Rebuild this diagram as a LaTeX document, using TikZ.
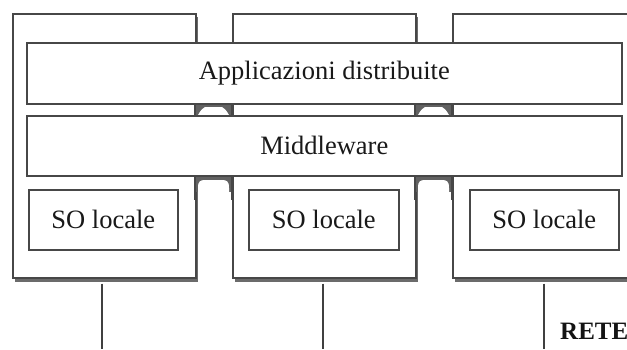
\documentclass[tikz,border=0pt]{standalone}
\usepackage{fontspec}
\setmainfont{Liberation Serif}
\begin{document}
\begin{tikzpicture}[x=1pt,y=-1pt,
  edge/.style={draw=black!72, line width=1.6pt},
  host/.style={edge, fill=white},
  hostshadow/.style={fill=black!58},
  layer/.style={edge, fill=white, inner sep=0pt, font=\fontsize{26.5}{28}\selectfont, text=black!90},
  joint/.style={fill=black!62},
  wire/.style={draw=black!75, line width=1.6pt},
  label/.style={font=\fontsize{25}{27}\selectfont\bfseries, text=black!92, inner sep=0pt}]
\useasboundingbox (0,0) rectangle (627,349);
\clip (0,0) rectangle (627,349);

% host shadows
\fill[hostshadow] (15,17) rectangle (198,282);
\fill[hostshadow] (235,17) rectangle (418,282);
\fill[hostshadow] (455,17) rectangle (640,282);

% hosts
\node[host, minimum width=183pt, minimum height=264pt, anchor=north west] (h1) at (12,13) {};
\node[host, minimum width=183pt, minimum height=264pt, anchor=north west] (h2) at (232,13) {};
\node[host, minimum width=190pt, minimum height=264pt, anchor=north west] (h3) at (452,13) {};

% joints between the layers in the gaps between hosts
\foreach \xa/\xb in {195/232, 415/452} {
  \fill[joint] (\xa,103) rectangle (\xb,115);
  \fill[white] (\xa+3,115) .. controls (\xa+6,110) .. (\xa+10,107) -- (\xb-10,107)
      .. controls (\xb-6,110) .. (\xb-3,115) -- cycle;
  \fill[joint] (\xa,175) rectangle (\xb,192);
  \fill[white] (\xa+3,200) -- (\xa+3,188) .. controls (\xa+3,181) and (\xa+5,180) .. (\xa+11,180)
      -- (\xb-11,180) .. controls (\xb-5,180) and (\xb-3,181) .. (\xb-3,188) -- (\xb-3,200) -- cycle;
  \draw[edge] (\xa,103) -- (\xa,115) (\xb,103) -- (\xb,115);
  \draw[edge] (\xa,175) -- (\xa,200) (\xb,175) -- (\xb,200);
}

% layers
\node[layer, minimum width=595pt, minimum height=61pt, anchor=north west] (app) at (26,42) {Applicazioni distribuite};
\node[layer, minimum width=595pt, minimum height=60pt, anchor=north west] (mw) at (26,115) {Middleware};

% local operating systems
\node[layer, minimum width=149pt, minimum height=60pt, anchor=north west] (so1) at (28,189) {SO locale};
\node[layer, minimum width=150pt, minimum height=60pt, anchor=north west] (so2) at (248,189) {SO locale};
\node[layer, minimum width=149pt, minimum height=60pt, anchor=north west] (so3) at (469,189) {SO locale};

% network
\coordinate (n1) at (102,349);
\coordinate (n2) at (323,349);
\coordinate (n3) at (544,349);
\draw[wire] (h1.south -| n1) ++(0,5) -- (n1);
\draw[wire] (h2.south -| n2) ++(0,5) -- (n2);
\draw[wire] (h3.south -| n3) ++(0,5) -- (n3);
\node[label, anchor=west] (rete) at (560,331) {RETE};
\end{tikzpicture}
\end{document}
